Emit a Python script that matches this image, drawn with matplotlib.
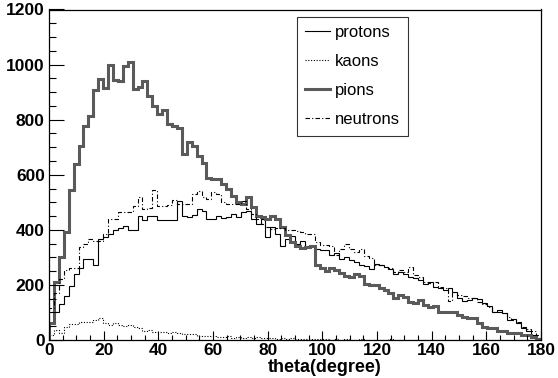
import numpy as np
import matplotlib
matplotlib.use("Agg")
import matplotlib.pyplot as plt
from matplotlib.ticker import MultipleLocator
from matplotlib.lines import Line2D

# 100 bins of 1.8 degree between 0 and 180
theta_edges = np.linspace(0, 180, 101)

protons = [
    60, 100, 130, 160, 195, 240, 262, 293, 293, 271,
    365, 373, 386, 398, 406, 413, 398, 398, 449, 434,
    449, 449, 434, 434, 434, 434, 505, 450, 446, 455,
    476, 470, 440, 440, 452, 442, 446, 458, 446, 464,
    470, 440, 420, 440, 373, 410, 386, 343, 368, 377,
    350, 361, 343, 340, 331, 325, 328, 307, 315, 295,
    300, 289, 285, 271, 268, 259, 277, 271, 265, 259,
    241, 248, 238, 230, 225, 217, 205, 211, 193, 188,
    181, 187, 175, 151, 140, 145, 154, 148, 133, 125,
    103, 108, 97, 73, 78, 61, 43, 31, 19, 8,
]

kaons = [
    19, 37, 25, 46, 58, 58, 65, 65, 67, 73,
    80, 62, 55, 60, 55, 50, 55, 46, 42, 34,
    36, 30, 30, 29, 25, 28, 25, 22, 20, 20,
    15, 13, 14, 13, 12, 10, 14, 8, 11, 9,
    12, 7, 10, 8, 6, 9, 5, 7, 4, 6,
    3, 5, 3, 4, 2, 3, 2, 1, 3, 1,
    2, 1, 0, 2, 1, 0, 1, 1, 0, 2,
    0, 1, 0, 0, 1, 0, 1, 0, 0, 1,
    0, 0, 0, 1, 0, 0, 0, 0, 1, 0,
    0, 0, 0, 0, 0, 0, 0, 0, 0, 0,
]

pions = [
    60, 212, 302, 393, 544, 638, 704, 778, 812, 906,
    947, 914, 1000, 944, 942, 995, 1010, 911, 918, 940,
    886, 850, 822, 834, 786, 776, 770, 674, 720, 704,
    668, 642, 590, 584, 584, 566, 548, 524, 500, 494,
    518, 482, 449, 446, 440, 452, 440, 410, 380, 355,
    340, 335, 338, 343, 271, 260, 250, 262, 254, 245,
    232, 228, 239, 232, 202, 199, 199, 187, 180, 170,
    151, 163, 157, 139, 135, 145, 127, 120, 125, 103,
    103, 101, 101, 91, 85, 79, 79, 61, 49, 43,
    43, 34, 34, 25, 25, 25, 17, 17, 10, 5,
]

neutrons = [
    115, 169, 223, 253, 262, 262, 338, 350, 367, 361,
    361, 386, 440, 440, 464, 464, 464, 488, 518, 476,
    480, 545, 488, 488, 490, 510, 495, 495, 495, 530,
    542, 520, 512, 536, 530, 500, 492, 495, 495, 506,
    476, 458, 440, 422, 410, 404, 406, 406, 401, 401,
    396, 392, 385, 385, 356, 345, 345, 340, 307, 330,
    350, 330, 320, 330, 305, 298, 271, 271, 265, 260,
    248, 255, 248, 265, 235, 230, 211, 208, 210, 193,
    188, 140, 175, 165, 160, 151, 151, 139, 130, 120,
    103, 100, 97, 85, 73, 65, 49, 40, 31, 19,
]

series = [
    ("protons", protons, dict(color="black", linewidth=0.8, linestyle="-")),
    ("kaons", kaons, dict(color="black", linewidth=0.8, linestyle=(0, (1, 1.5)))),
    ("pions", pions, dict(color="#5a5a5a", linewidth=2.2, linestyle="-")),
    ("neutrons", neutrons, dict(color="black", linewidth=0.8, linestyle=(0, (4, 2, 1, 2)))),
]

plt.rcParams["font.family"] = ["Liberation Sans", "DejaVu Sans"]

fig = plt.figure(figsize=(5.58, 3.78), dpi=100)
ax = fig.add_axes([49 / 558, 1 - 340 / 378, (541 - 49) / 558, (340 - 9.5) / 378])

handles = []
for name, vals, style in series:
    ax.stairs(vals, theta_edges, baseline=0, **style)
    handles.append(Line2D([], [], label=name, **style))

ax.set_xlim(0, 180)
ax.set_ylim(0, 1200)
ax.xaxis.set_major_locator(MultipleLocator(20))
ax.xaxis.set_minor_locator(MultipleLocator(5))
ax.yaxis.set_major_locator(MultipleLocator(200))
ax.yaxis.set_minor_locator(MultipleLocator(50))
ax.tick_params(axis="x", which="major", direction="in", length=6.5, width=0.8, pad=2,
               labelsize=12.5)
ax.tick_params(axis="x", which="minor", direction="in", length=3.3, width=0.8)
ax.tick_params(axis="y", which="major", direction="in", length=10.5, width=0.8, pad=3,
               labelsize=12.5)
ax.tick_params(axis="y", which="minor", direction="in", length=5, width=0.8)
for lab in ax.get_xticklabels() + ax.get_yticklabels():
    lab.set_fontweight("bold")
for sp in ax.spines.values():
    sp.set_linewidth(0.9)

fig.text(325 / 558, 1 - 368 / 378, "theta(degree)", ha="center", va="center",
         fontsize=13, fontweight="bold")

leg = ax.legend(handles=handles, loc="upper left",
                bbox_to_anchor=((297 - 49) / 492, (340 - 17) / 330.5),
                frameon=True, fancybox=False, shadow=False, fontsize=12,
                handlelength=1.5, handletextpad=0.25, labelspacing=0.84,
                borderpad=0.5, borderaxespad=0)
leg.get_frame().set_edgecolor("black")
leg.get_frame().set_linewidth(0.8)

fig.savefig("out.png", dpi=100)
